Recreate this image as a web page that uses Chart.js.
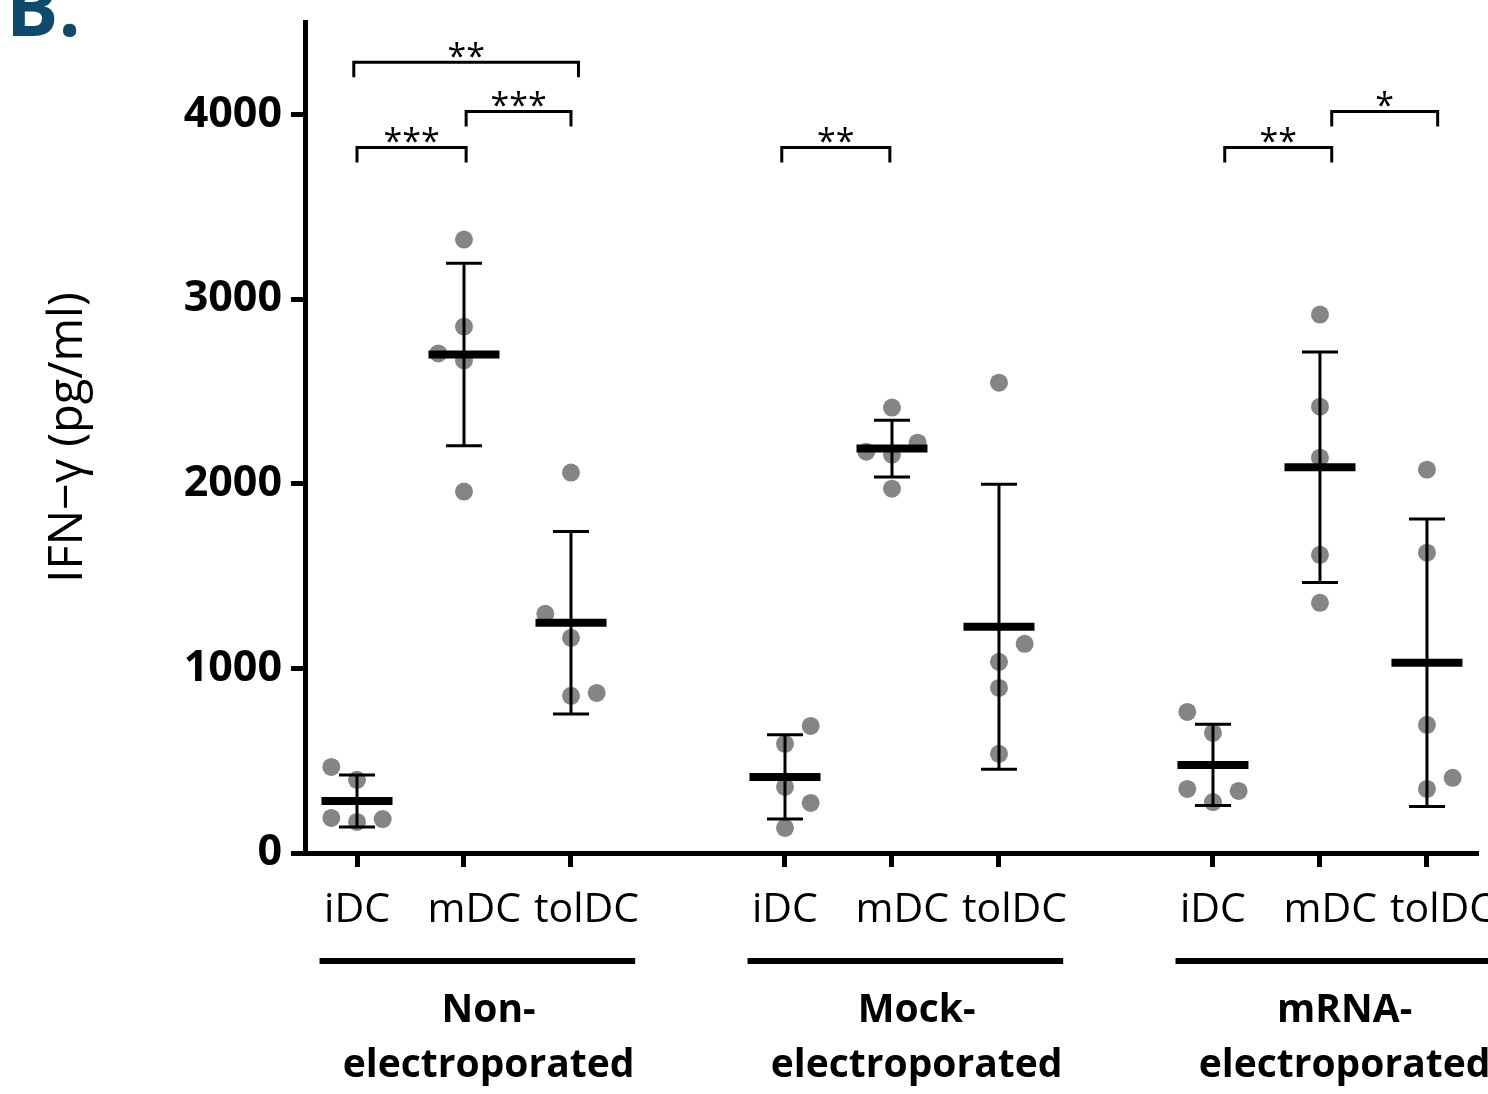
<!DOCTYPE html>
<html><head><meta charset="utf-8">
<script src="https://cdn.jsdelivr.net/npm/chart.js@4.4.1/dist/chart.umd.min.js"></script>
<style>html,body{margin:0;padding:0;background:#fff;}#wrap{width:1488px;height:1094px;position:relative;}</style>
</head><body><div id="wrap"><canvas id="c"></canvas></div>
<script>
// ---------- data ----------
const categories = ['iDC', 'mDC', 'tolDC'];
const groupLabels = [['Non-', 'electroporated'], ['Mock-', 'electroporated'], ['mRNA-', 'electroporated']];
const yTicks = [0, 1000, 2000, 3000, 4000];
const yTitle = 'IFN\u2212\u03b3 (pg/ml)';
const panelLetter = 'B.';

// individual donors (pg/ml)
const nonIDC  = [466, 396, 190, 168, 184];
const nonMDC  = [3322, 2851, 2705, 2667, 1957];
const nonTol  = [2060, 1295, 1165, 851, 867];
const mockIDC = [688, 591, 358, 271, 136];
const mockMDC = [2412, 2173, 2157, 2222, 1973];
const mockTol = [2547, 1133, 1035, 894, 537];
const mrnaIDC = [764, 650, 347, 336, 276];
const mrnaMDC = [2916, 2417, 2141, 1615, 1355];
const mrnaTol = [2076, 1626, 694, 407, 347];

// mean and SD
const meanNon  = [282, 2699, 1247];
const sdNon    = [141, 494, 494];
const meanMock = [412, 2190, 1225];
const sdMock   = [228, 154, 772];
const meanMrna = [477, 2089, 1030];
const sdMrna   = [220, 624, 778];

// significance brackets (x in category units, y in pg/ml)
const sigFrom = [0, 1.02, -0.03, 3.97, 8.11, 9.11];
const sigTo   = [1.02, 2.0, 2.07, 4.98, 9.11, 10.1];
const sigY    = [3821, 4016, 4282, 3821, 3821, 4016];
const sigText = ['***', '***', '**', '**', '**', '*'];

// ---------- layout helpers ----------
const seriesPoints = [[nonIDC, nonMDC, nonTol], [mockIDC, mockMDC, mockTol], [mrnaIDC, mrnaMDC, mrnaTol]];
const seriesMean = [meanNon, meanMock, meanMrna];
const seriesSd = [sdNon, sdMock, sdMrna];
// horizontal spread of the dots (-1 left, 0 centre, 1 right)
const spread = [
  [[-1, 0, -1, 0, 1], [0, 0, -1, 0, 0], [0, -1, 0, 0, 1]],
  [[1, 0, 0, 1, 0], [0, -1, 0, 1, 0], [0, 1, 0, 0, 0]],
  [[-1, 0, -1, 1, 0], [0, 0, 0, 0, 0], [0, 0, 0, 1, 0]]
];
const SPREAD = 0.24;
// small right shift of the category labels as in the original figure
const labelLead = ['', '\u2002', '\u2002 '];
const xOf = (g, c) => g * 4 + c;

const dotData = [], meanData = [], tickPos = [];
seriesPoints.forEach((grp, g) => grp.forEach((vals, c) => {
  tickPos.push(xOf(g, c));
  meanData.push({x: xOf(g, c), y: seriesMean[g][c], sd: seriesSd[g][c]});
  vals.forEach((v, i) => dotData.push({x: xOf(g, c) + spread[g][c][i] * SPREAD, y: v}));
}));

const FONT = "'Open Sans', 'Noto Sans', sans-serif";

const decor = {
  id: 'decor',
  afterDatasetsDraw(chart) {
    const {ctx, scales: {x, y}} = chart;
    ctx.save();
    ctx.strokeStyle = '#000';
    ctx.lineCap = 'butt';
    meanData.forEach(m => {
      const px = x.getPixelForValue(m.x);
      const top = y.getPixelForValue(m.y + m.sd);
      const bot = y.getPixelForValue(m.y - m.sd);
      ctx.lineWidth = 3;
      ctx.beginPath();
      ctx.moveTo(px, top); ctx.lineTo(px, bot);
      ctx.moveTo(px - 18, top); ctx.lineTo(px + 18, top);
      ctx.moveTo(px - 18, bot); ctx.lineTo(px + 18, bot);
      ctx.stroke();
    });
    ctx.restore();
  },
  afterDraw(chart) {
    const {ctx, scales: {x, y}, chartArea} = chart;
    ctx.save();
    ctx.strokeStyle = '#000';
    ctx.fillStyle = '#000';
    ctx.lineJoin = 'miter';
    ctx.textAlign = 'center';
    ctx.textBaseline = 'alphabetic';
    sigFrom.forEach((f, i) => {
      const x1 = x.getPixelForValue(f), x2 = x.getPixelForValue(sigTo[i]);
      const py = y.getPixelForValue(sigY[i]);
      ctx.lineWidth = 3;
      ctx.beginPath();
      ctx.moveTo(x1, py + 15); ctx.lineTo(x1, py); ctx.lineTo(x2, py); ctx.lineTo(x2, py + 15);
      ctx.stroke();
      ctx.font = '34px ' + FONT;
      ctx.fillText(sigText[i], (x1 + x2) / 2, py + 6);
    });
    groupLabels.forEach((lines, g) => {
      const l1 = x.getPixelForValue(g * 4 - 0.35), l2 = x.getPixelForValue(g * 4 + 2.6);
      const ly = chartArea.bottom + 108;
      ctx.lineWidth = 6;
      ctx.beginPath(); ctx.moveTo(l1, ly); ctx.lineTo(l2, ly); ctx.stroke();
      const cx = x.getPixelForValue(g * 4 + 1.23);
      ctx.font = 'bold 39px ' + FONT;
      ctx.fillText(lines[0], cx, chartArea.bottom + 169);
      ctx.fillText(lines[1], cx, chartArea.bottom + 224);
    });
    ctx.fillStyle = '#0d4a6c';
    ctx.textAlign = 'left';
    ctx.font = 'bold 78px ' + FONT;
    ctx.fillText(panelLetter, 6, 36);
    ctx.restore();
  }
};

new Chart(document.getElementById('c'), {
  type: 'scatter',
  data: {
    datasets: [
      {label: 'mean', data: meanData, order: 1, pointStyle: 'line', pointRadius: 35.5, pointHoverRadius: 35.5,
       borderColor: '#000', backgroundColor: '#000', borderWidth: 8, pointBorderWidth: 8},
      {label: 'donors', data: dotData, order: 2, pointRadius: 9, pointHoverRadius: 9,
       backgroundColor: '#858585', borderWidth: 0, pointBorderWidth: 0}
    ]
  },
  options: {
    responsive: true, maintainAspectRatio: false, animation: false,
    devicePixelRatio: 1,
    layout: {autoPadding: false, padding: {top: 22, right: 10, left: 0, bottom: 0}},
    plugins: {legend: {display: false}, tooltip: {enabled: false}},
    scales: {
      x: {
        type: 'linear', min: -0.486, max: 10.477,
        afterBuildTicks: s => { s.ticks = tickPos.map(v => ({value: v})); },
        afterFit: s => { s.height = 241; s.paddingLeft = 0; s.paddingRight = 0; },
        ticks: {
          callback: v => { const c = Math.round(v) % 4; return labelLead[c] + categories[c]; },
          color: '#000', font: {family: FONT, size: 41}, padding: 19,
          maxRotation: 0, autoSkip: false
        },
        grid: {drawOnChartArea: false, drawTicks: true, tickLength: 14, tickWidth: 5, tickColor: '#000'},
        border: {display: true, color: '#000', width: 5}
      },
      y: {
        type: 'linear', min: 0, max: 4500,
        afterBuildTicks: s => { s.ticks = yTicks.map(v => ({value: v})); },
        afterFit: s => { s.width = 305; s.paddingTop = 0; s.paddingBottom = 0; },
        ticks: {callback: v => String(v), color: '#000', font: {family: FONT, size: 43, weight: 'bold'}, padding: 9},
        grid: {drawOnChartArea: false, drawTicks: true, tickLength: 14, tickWidth: 5, tickColor: '#000'},
        border: {display: true, color: '#000', width: 5},
        title: {display: true, text: yTitle, color: '#000', font: {family: FONT, size: 47}, padding: {top: 40, bottom: 0}}
      }
    }
  },
  plugins: [decor]
});
</script></body></html>
